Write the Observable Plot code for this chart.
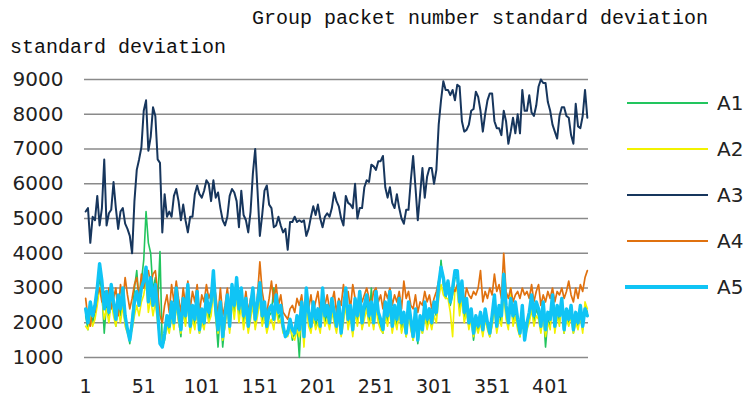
<!DOCTYPE html>
<html>
<head>
<meta charset="utf-8">
<script src="https://cdn.jsdelivr.net/npm/d3@7"></script>
<script src="https://cdn.jsdelivr.net/npm/@observablehq/plot@0.6"></script>
<style>
  html, body { margin: 0; padding: 0; background: #fff; }
  #wrap { position: relative; width: 746px; height: 404px; overflow: hidden; }
  #chart { position: absolute; left: 0; top: 0; }
  .mono { position: absolute; font-family: "Liberation Mono", "DejaVu Sans Mono", monospace; font-size: 20px; line-height: 20px; color: #111; white-space: nowrap; }
  .leg { position: absolute; left: 627px; width: 81px; }
  .legtxt { position: absolute; left: 717px; font-family: "DejaVu Sans", sans-serif; font-size: 20px; line-height: 20px; color: #222; }
</style>
</head>
<body>
<div id="wrap">
  <div id="chart"></div>
  <div class="mono" style="left:252px; top:9px;">Group packet number standard deviation</div>
  <div class="mono" style="left:10px; top:38px;">standard deviation</div>
  <div id="legend"></div>
</div>
<script>
// Packet index (every second packet sampled)
const packets = d3.range(1, 434, 2);
const xTicks = [1, 51, 101, 151, 201, 251, 301, 351, 401];
const yTicks = [1000, 2000, 3000, 4000, 5000, 6000, 7000, 8000, 9000];
const seriesNames = ["A1", "A2", "A3", "A4", "A5"];
const seriesColors = ["#22c55e", "#f2f200", "#17365d", "#e0710f", "#10c4f5"];
const seriesWidths = [1.6, 1.6, 2, 1.7, 3.4];

const A1 = [
2200,1800,2400,2000,2300,2700,3300,2900,1700,2600,
2200,2800,2400,1900,2600,2200,2700,2000,1800,1400,
2100,3000,3500,2600,3200,3800,5200,4300,4000,2900,
3300,2500,4050,1300,1500,2000,1800,2400,1900,2800,
2100,1600,2500,2000,2900,1800,2300,1900,2700,1700,
2200,1900,2600,2100,2400,3300,2200,1300,2400,1300,
2000,2600,1800,2900,2300,3000,2200,2800,2000,2500,
1800,2300,2800,1900,2400,2900,2000,2400,1800,2200,
2300,3000,2600,2100,2300,1800,1700,1800,2000,1500,
1700,2000,1000,2400,1500,2800,2100,1800,2400,1900,
2200,1800,2800,2000,2300,1900,2500,2100,1800,2400,
1700,2200,2800,1900,2300,1700,2500,2000,2700,1900,
2300,2600,2000,3000,1900,2700,2100,1900,1700,2400,
2000,2700,1800,2300,1900,2500,1800,2100,1600,2400,
1900,1500,2200,1400,2000,1700,2400,1900,2200,1900,
2400,2200,2900,3800,3100,2700,3000,2500,2800,3300,
3300,2400,3000,2100,2500,1900,2200,1500,2000,1800,
2100,1700,2200,1900,1600,2000,2600,1800,2300,2000,
3200,2300,1900,2800,2000,2400,1900,1600,2300,1500,
1900,2100,2600,2000,2400,2200,1800,2400,1300,2100,
1900,2600,1800,2300,2000,2500,1700,2200,2000,2300,
1700,2100,1900,2300,1800,2500,2300];

const A2 = [
1900,1800,2200,1900,2100,2500,3000,2700,2100,2400,
2000,2600,2200,1900,2400,2000,2500,1900,1700,1600,
1800,2200,2500,2200,2600,2800,3200,2300,2700,2200,
2600,2000,1500,1400,1600,1900,1700,2200,1800,2500,
2000,1700,2300,1900,2600,1700,2100,1800,2400,1700,
2000,1800,2400,2000,2200,2900,2100,1700,2200,1500,
1900,2400,1700,2600,2100,2800,2000,2500,1800,2300,
1700,2100,2500,1800,2200,2600,1900,2200,1700,2000,
2100,1800,2400,2000,2100,1700,1700,1600,1900,1600,
1500,1800,1600,2200,1300,2500,1900,1700,2200,1800,
2000,1700,2500,1900,2100,1800,2300,2000,1700,2200,
1600,2000,2500,1800,2200,1600,2300,1900,2400,1800,
2100,2400,1900,2200,1800,2400,2000,1800,1700,2200,
1900,2400,1700,2100,1800,2300,1700,2000,1600,2200,
1800,1500,2000,1500,1900,1700,2200,1800,2100,1800,
2200,2000,2700,3100,2800,2700,2700,2300,1600,3000,
2900,2200,2700,2000,2300,1800,2100,1600,1900,1700,
2000,1600,2100,1800,1600,1900,2400,1700,2100,1900,
2800,2100,1800,3000,1900,2200,1800,1600,2100,1500,
1800,2000,2400,1900,2200,2100,1700,2200,1600,2000,
1800,2700,1700,2200,1900,2700,1700,2100,1900,2200,
1700,2000,1800,2200,1700,2600,2400];

const A3 = [
5200,5300,4300,5050,4950,5650,4800,5300,6700,4800,
5150,5250,6050,5300,4700,5200,5300,4850,4700,4500,
4000,5500,6400,6700,7050,8100,8400,6950,7350,8200,
7950,6700,6600,4600,5700,5050,5200,5050,5650,5850,
5500,4950,5400,4950,4600,5050,5050,5700,5950,5700,
5600,5800,6100,6000,5500,6100,5600,5750,5300,4950,
4800,5050,5650,5850,5750,5500,4750,5800,5100,4950,
4600,5200,6300,7000,5800,4500,5100,5800,5950,5400,
5300,4750,4800,5050,4800,4600,4700,4100,4900,4900,
5050,4900,4950,4900,4950,4500,4700,5050,5350,5100,
5400,5000,4750,5050,5150,5050,5300,5750,5500,5350,
5000,4800,5650,5450,5400,5300,6000,5000,5300,5300,
5900,6100,6050,6550,6500,6400,6650,6650,6800,5900,
5600,5900,5450,5300,5700,5300,5000,4850,5250,5250,
6100,6800,5900,4950,5700,6450,5600,6200,6450,6450,
6000,6400,7700,8400,8950,8700,8700,8550,8700,8400,
8850,8800,7800,7500,7550,7700,8100,8150,8650,8500,
8100,7500,8000,8400,8600,8600,7800,7600,7600,7400,
8100,7800,7150,7500,7900,7450,8000,7450,8700,8100,
8100,8550,8050,7950,8250,8800,9000,8900,8900,8350,
8100,7700,7500,7300,7950,8200,8200,7950,7900,7400,
7150,8300,7650,7600,7950,8700,7900];

const A4 = [
2700,2100,1900,2400,2300,2800,3000,2600,2900,2500,
3000,2400,2700,3000,2200,3100,2600,3300,2800,2400,
2700,3100,3300,2700,3400,3000,3300,3500,3100,3400,
3500,2900,2200,2000,2500,2800,2300,3100,2600,3200,
2700,2300,3000,2500,3200,2400,2900,2600,3100,2300,
2800,2600,3100,2700,2900,3200,2800,2200,3000,2200,
2500,3000,2400,2900,2700,3000,2600,2800,2400,2900,
2300,2700,2600,2200,2800,3750,2900,2500,2300,2700,
3200,2600,3100,2500,2800,2300,2200,2100,2400,2500,
2300,2700,2500,2800,2200,2600,2400,2800,2300,2600,
2900,2300,2700,2500,2800,2400,2600,2900,2300,2700,
2500,3100,2600,2900,2400,3100,2700,2500,2900,2600,
2800,3000,2700,2500,2900,3000,2600,2800,2400,2900,
2700,3000,2500,2800,2600,2900,2400,3200,2700,2900,
2500,2400,2800,2300,2600,2500,2900,2600,2800,2400,
2700,2900,3200,3500,3300,3000,3100,2800,3000,2900,
3100,2700,2900,2600,3000,2800,2700,2900,2800,3000,
3500,2600,2900,2700,3000,2800,3400,2900,3100,2700,
4000,2900,2700,3000,2600,2800,2900,2700,3000,2800,
2900,2700,3100,2600,2900,3100,2500,2800,2600,2900,
2700,3000,2600,2900,2800,3000,2700,2900,3200,2800,
2600,3000,2700,3100,2900,3300,3500];

const A5 = [
2400,2000,2600,2200,2500,3000,3700,3200,2400,2900,
2300,3100,2600,2100,2800,2400,3000,2200,1800,1500,
2000,2600,2900,2500,3000,3200,3600,2600,3300,2500,
3100,2300,1400,1300,1700,2200,1900,2600,2000,3000,
2300,1800,2700,2200,3100,1900,2500,2100,2900,1800,
2400,2000,2800,2300,2600,3500,2400,1800,2600,1600,
2200,2800,1900,3100,2500,3300,2400,3000,2200,2700,
1900,2500,3000,2100,2600,3150,2200,2600,1900,2400,
2500,2100,2800,2300,2500,1900,1600,1700,2100,1800,
1700,2200,1800,2600,1600,3000,2300,1900,2600,2100,
2400,1900,3000,2200,2500,2000,2700,2300,1900,2600,
1700,2400,3000,2100,2500,1800,2700,2200,2900,2000,
2500,2800,2200,2600,2000,2900,2300,2100,1800,2600,
2200,2900,1900,2500,2100,2700,2000,2300,1700,2600,
2100,1600,2400,1500,2200,1800,2600,2100,2400,2000,
2600,2300,3100,3600,3300,2800,3200,2600,3000,3500,
3500,2600,3200,2300,2700,2000,2400,1700,2200,1900,
2300,1800,2400,2000,1700,2200,2800,1900,2500,2200,
3400,2500,2000,2700,2200,2600,2100,1700,2500,1500,
2000,2300,2800,2200,2600,2400,1900,2600,1800,2300,
2100,2800,1900,2500,2200,2700,1800,2400,2100,2500,
1800,2300,2000,2500,1900,2400,2200];

const allValues = [A1, A2, A3, A4, A5];
const rows = seriesNames.flatMap((name, si) =>
  allValues[si].map((v, i) => ({ packet: packets[i], value: v, series: name })));

const lineMarks = seriesNames.map((name, si) =>
  Plot.line(rows.filter(r => r.series === name), {
    x: "packet", y: "value",
    stroke: seriesColors[si], strokeWidth: seriesWidths[si],
    strokeLinejoin: "round"
  }));

const chart = Plot.plot({
  width: 746,
  height: 404,
  marginLeft: 84,
  marginRight: 158,
  marginTop: 79,
  marginBottom: 47,
  style: { fontFamily: "'DejaVu Sans', sans-serif", fontSize: "20px", color: "#222", background: "transparent" },
  x: { domain: [0, 434] },
  y: { domain: [1000, 9000] },
  marks: [
    Plot.ruleY(yTicks, { stroke: "#8a8a8a", strokeWidth: 1.4 }),
    ...lineMarks,
    Plot.axisY(yTicks, { tickSize: 0, tickPadding: 21, fontSize: 20, label: null, fill: "#222", tickFormat: d => String(d) }),
    Plot.axisX(xTicks, { tickSize: 0, tickPadding: 22, fontSize: 19, label: null, fill: "#222", tickFormat: d => String(d) })
  ]
});
document.getElementById("chart").appendChild(chart);

// Legend
const legend = document.getElementById("legend");
const legendRows = [103, 149, 195, 241, 287];
seriesNames.forEach((name, si) => {
  const ln = document.createElement("div");
  ln.className = "leg";
  const w = si === 4 ? 4 : 2.5;
  ln.style.top = (legendRows[si] - w / 2) + "px";
  ln.style.height = w + "px";
  ln.style.background = seriesColors[si];
  if (si === 4) { ln.style.left = "625px"; ln.style.width = "83px"; }
  legend.appendChild(ln);
  const tx = document.createElement("div");
  tx.className = "legtxt";
  tx.style.top = (legendRows[si] - 10) + "px";
  tx.textContent = name;
  legend.appendChild(tx);
});
</script>
</body>
</html>
